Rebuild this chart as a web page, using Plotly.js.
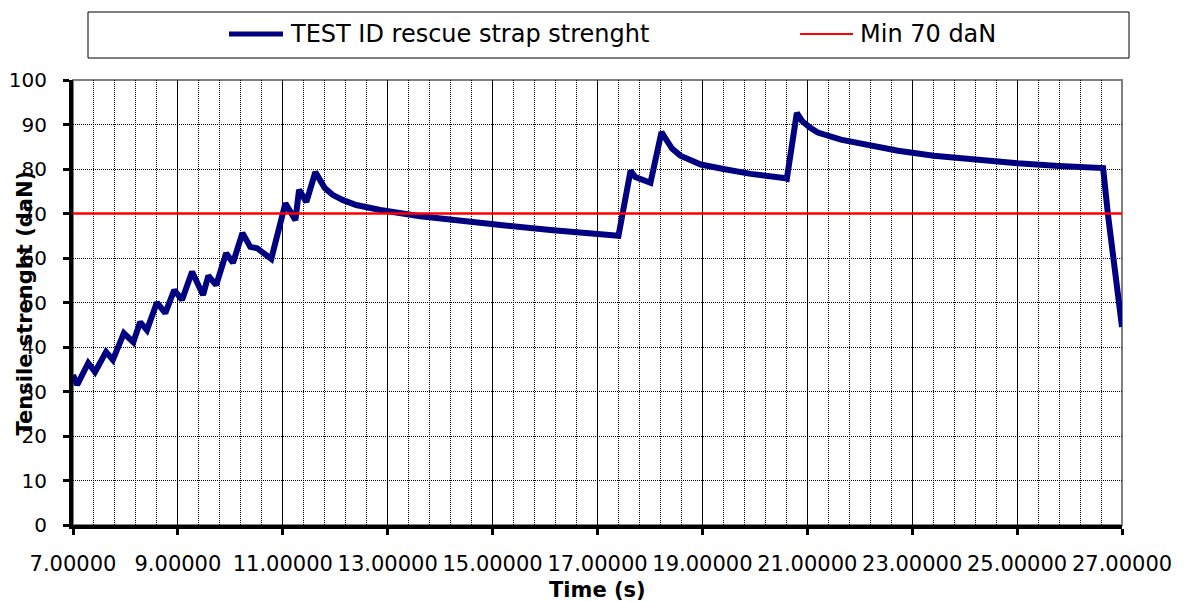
<!DOCTYPE html>
<html>
<head>
<meta charset="utf-8">
<script src="https://cdn.plot.ly/plotly-3.0.1.min.js"></script>
<style>
html,body{margin:0;padding:0;background:#fff;}
#chart{width:1184px;height:602px;}
</style>
</head>
<body>
<div id="chart"></div>
<script>
// Data
const seriesName = "TEST ID rescue strap strenght";
const timeS = [7.00, 7.08, 7.29, 7.42, 7.63, 7.76, 7.97, 8.15, 8.28, 8.41, 8.60, 8.76, 8.93, 9.08, 9.27, 9.48, 9.58, 9.73, 9.92, 10.05, 10.23, 10.38, 10.51, 10.78, 11.05, 11.24, 11.31, 11.45, 11.62, 11.70, 11.80, 11.95, 12.15, 12.40, 12.86, 13.62, 14.39, 15.15, 16.10, 17.06, 17.40, 17.63, 17.72, 18.01, 18.22, 18.30, 18.42, 18.58, 18.97, 19.40, 19.92, 20.55, 20.61, 20.80, 20.90, 21.05, 21.20, 21.64, 22.15, 22.73, 23.41, 24.21, 25.01, 25.80, 26.64, 26.73, 27.00];
const strengthDaN = [33.7, 31.5, 36.4, 34.4, 38.9, 37.1, 43.1, 41.1, 45.6, 43.8, 50.0, 47.6, 52.8, 50.6, 56.9, 51.7, 56.0, 53.9, 61.1, 58.9, 65.6, 62.5, 62.2, 59.8, 72.3, 68.5, 75.3, 72.6, 79.3, 77.4, 75.7, 74.2, 73.0, 71.9, 70.8, 69.4, 68.3, 67.4, 66.3, 65.5, 65.0, 79.6, 78.2, 76.9, 88.3, 86.8, 84.6, 83.0, 81.0, 80.0, 78.9, 78.0, 77.8, 92.6, 90.8, 89.3, 88.2, 86.6, 85.3, 84.1, 83.0, 82.1, 81.3, 80.7, 80.2, 70.0, 44.5];
const minName = "Min 70 daN";
const minX = [7, 27];
const minY = [70, 70];
const xTitle = "Time (s)";
const yTitle = "Tensile strenght (daN)";

const FONT = "DejaVu Sans, Verdana, sans-serif";
const navy = "#000080";
const red = "#FF0000";

const traces = [
  {x: timeS, y: strengthDaN, name: seriesName, type: "scatter", mode: "lines",
   line: {color: navy, width: 6, shape: "linear"}, showlegend: false},
  {x: minX, y: minY, name: minName, type: "scatter", mode: "lines",
   line: {color: red, width: 2.5}, showlegend: false}
];

const layout = {
  width: 1184, height: 602,
  paper_bgcolor: "#fff", plot_bgcolor: "#fff",
  margin: {l: 73, r: 62, t: 80, b: 77},
  font: {family: FONT, color: "#000"},
  showlegend: false,
  xaxis: {
    range: [7, 27], tick0: 7, dtick: 2, tickformat: ".5f", tickangle: 0,
    showline: true, linecolor: "#000", linewidth: 4,
    ticks: "outside", ticklen: 6, tickwidth: 3, tickcolor: "#000",
    showgrid: true, gridcolor: "#000", gridwidth: 1,
    minor: {tick0: 7, dtick: 0.4, showgrid: true, gridcolor: "#000", gridwidth: 1, griddash: "1px,1px"},
    zeroline: false, fixedrange: true,
    tickfont: {size: 21, family: FONT, color: "#000"},
    ticklabelstandoff: 11,
    automargin: false
  },
  yaxis: {
    range: [0, 100], tick0: 0, dtick: 10,
    showline: true, linecolor: "#000", linewidth: 4,
    ticks: "outside", ticklen: 6, tickwidth: 3, tickcolor: "#000",
    showgrid: true, gridcolor: "#000", gridwidth: 1, griddash: "1px,1px",
    zeroline: false, fixedrange: true,
    tickfont: {size: 20, family: FONT, color: "#000"},
    ticklabelstandoff: 12,
    automargin: false
  },
  shapes: [
    {type: "rect", xref: "paper", yref: "paper", x0: 0, x1: 1, y0: 0, y1: 1,
     line: {color: "#808080", width: 2}, layer: "between"},
    {type: "rect", xref: "paper", yref: "paper", x0: 0.0143, x1: 1.0067, y0: 1.0494, y1: 1.1528,
     line: {color: "#000", width: 1}, fillcolor: "#fff", layer: "above"},
    {type: "line", xref: "paper", yref: "paper", x0: 0.1487, x1: 0.2002, y0: 1.1034, y1: 1.1034,
     line: {color: navy, width: 5}, layer: "above"},
    {type: "line", xref: "paper", yref: "paper", x0: 0.6931, x1: 0.7436, y0: 1.1034, y1: 1.1034,
     line: {color: red, width: 2}, layer: "above"}
  ],
  annotations: [
    {xref: "paper", yref: "paper", x: 0.205, y: 1.1034, xanchor: "left", yanchor: "middle",
     text: seriesName, showarrow: false, font: {size: 24, family: FONT, color: "#000"}},
    {xref: "paper", yref: "paper", x: 0.7483, y: 1.1034, xanchor: "left", yanchor: "middle",
     text: minName, showarrow: false, font: {size: 24, family: FONT, color: "#000"}},
    {xref: "paper", yref: "paper", x: 0.5, y: -0.146, xanchor: "center", yanchor: "middle",
     text: "<b>" + xTitle + "</b>", showarrow: false,
     font: {size: 21, family: FONT, color: "#000"}},
    {xref: "paper", yref: "paper", x: -0.0458, y: 0.5, xanchor: "center", yanchor: "middle",
     textangle: -90, text: "<b>" + yTitle + "</b>", showarrow: false,
     font: {size: 21, family: FONT, color: "#000"}}
  ]
};

Plotly.newPlot("chart", traces, layout, {displayModeBar: false, staticPlot: true});
</script>
</body>
</html>
